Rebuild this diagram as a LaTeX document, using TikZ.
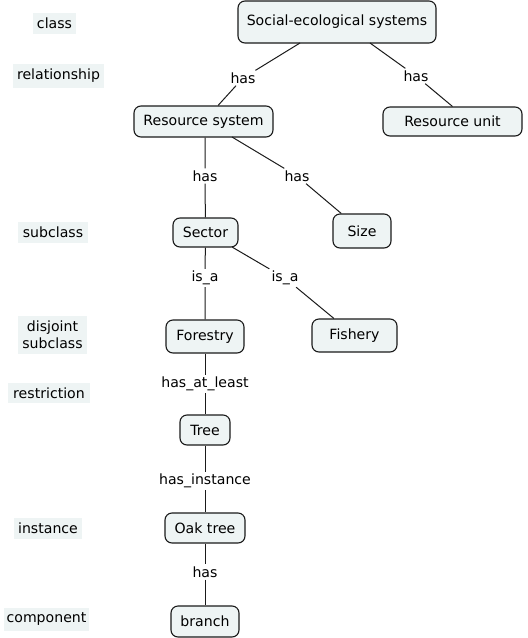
\documentclass[tikz,border=0pt]{standalone}
\usepackage{fontspec}
\setmainfont{DejaVu Sans}
\definecolor{boxfill}{HTML}{EEF4F4}
\definecolor{tagfill}{HTML}{EEF4F4}
\definecolor{edge}{HTML}{1A1A1A}
\begin{document}
\begin{tikzpicture}[x=1pt,y=-1pt,
  every node/.style={font=\fontsize{14.1}{17}\selectfont, inner sep=0pt},
  concept/.style={draw=edge, line width=1.1pt, fill=boxfill, rounded corners=7pt, align=center},
  rel/.style={inner sep=2pt},
  tag/.style={fill=tagfill, align=center, inner sep=0pt},
  link/.style={draw=edge, line width=1pt}]
\useasboundingbox (0,0) rectangle (528,638);
% concepts
\node[concept, minimum width=198, minimum height=42] (ses) at (337,22) {Social-ecological systems};
\node[concept, minimum width=139, minimum height=31] (rs) at (203.5,121.5) {Resource system};
\node[concept, minimum width=139, minimum height=29] (ru) at (452.5,121.5) {Resource unit};
\node[concept, minimum width=65, minimum height=29] (sector) at (205.5,232.5) {Sector};
\node[concept, minimum width=58, minimum height=34] (size) at (362,231) {Size};
\node[concept, minimum width=78, minimum height=33] (forestry) at (205,336.5) {Forestry};
\node[concept, minimum width=85, minimum height=33] (fishery) at (354.5,335.5) {Fishery};
\node[concept, minimum width=50, minimum height=30] (tree) at (205,430) {Tree};
\node[concept, minimum width=80, minimum height=30] (oak) at (205,528) {Oak tree};
\node[concept, minimum width=68, minimum height=31] (branch) at (205,621.5) {branch};
% relation labels
\node[rel] (r1) at (243,78) {has};
\node[rel] (r2) at (416,76) {has};
\node[rel] (r3) at (205,176) {has};
\node[rel] (r4) at (297,176) {has};
\node[rel] (r5) at (205,278) {is\_a};
\node[rel] (r6) at (285,278) {is\_a};
\node[rel] (r7) at (205,384) {has\_at\_least};
\node[rel] (r8) at (205,481) {has\_instance};
\node[rel] (r9) at (205,572) {has};
% connectors
\coordinate (ses1) at (300,43);
\coordinate (ses2) at (370,43);
\draw[link] (ses1) -- (r1) -- (rs);
\draw[link] (ses2) -- (r2) -- (ru.north);
\draw[link] (rs.south -| r3) -- (r3) -- (sector);
\coordinate (rs2) at (232,137);
\draw[link] (rs2) -- (r4) -- (size);
\draw[link] (sector) -- (r5) -- (forestry);
\coordinate (sec2) at (232,247);
\draw[link] (sec2) -- (r6) -- (fishery);
\draw[link] (forestry) -- (r7) -- (tree);
\draw[link] (tree) -- (r8) -- (oak);
\draw[link] (oak) -- (r9) -- (branch);
% category tags
\node[tag, minimum width=43, minimum height=21] (tclass) at (54.5,23.5) {class};
\node[tag, minimum width=91, minimum height=24] (trel) at (58.5,76) {relationship};
\node[tag, minimum width=70, minimum height=21] (tsub) at (53,232.5) {subclass};
\node[tag, minimum width=69, minimum height=38, font=\fontsize{14.1}{17}\selectfont] (tdis) at (52.5,335) {disjoint\\subclass};
\node[tag, minimum width=82, minimum height=20] (tres) at (49,393) {restriction};
\node[tag, minimum width=68, minimum height=21] (tinst) at (48,528.5) {instance};
\node[tag, minimum width=85, minimum height=23] (tcomp) at (46.5,619.5) {component};
\end{tikzpicture}
\end{document}
